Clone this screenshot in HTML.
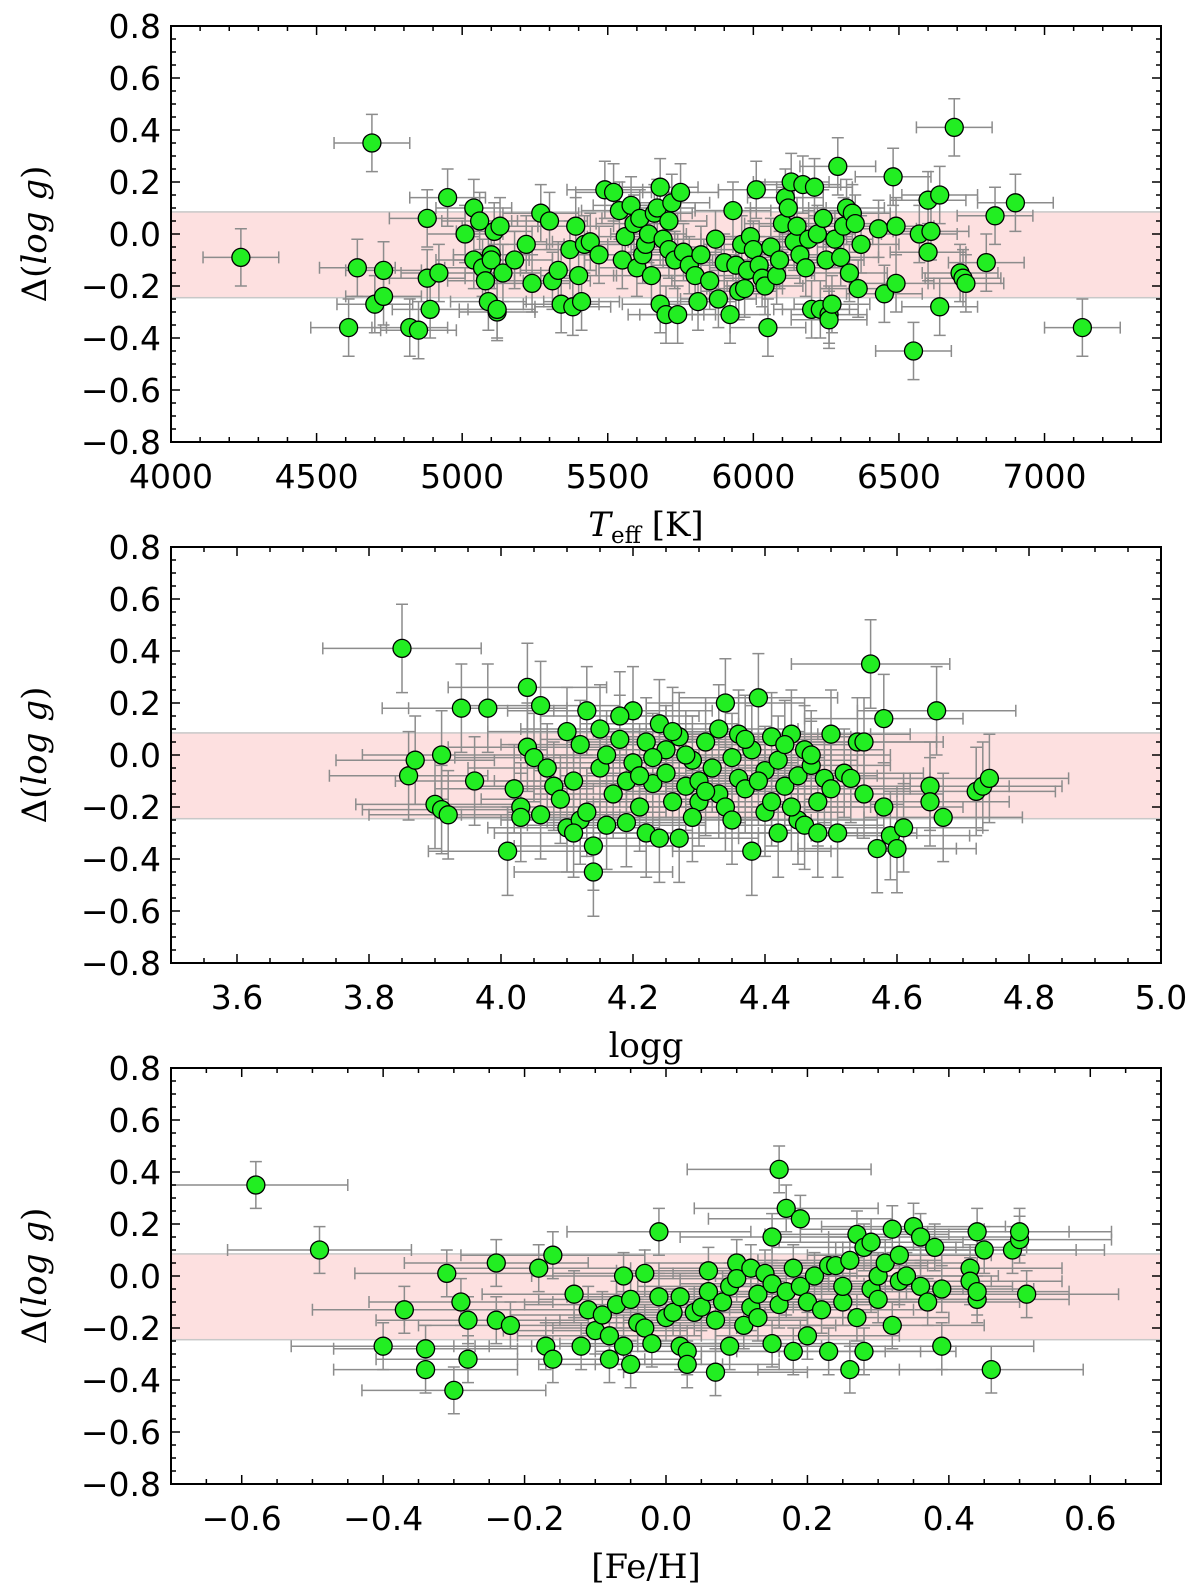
<!DOCTYPE html>
<html><head><meta charset="utf-8">
<style>
html,body{margin:0;padding:0;background:#fff;}
svg{display:block;}
.tick{font-family:"DejaVu Sans","Liberation Sans",sans-serif;font-size:33px;fill:#000;}
.lab{font-family:"DejaVu Serif","Liberation Serif",serif;font-size:34px;fill:#000;}
</style></head>
<body>
<svg id="fig" width="1200" height="1593" viewBox="0 0 1200 1593" xmlns="http://www.w3.org/2000/svg"></svg>
<script>
// ---------- data ----------
const teffX = [4240,4690,4610,4640,4700,4730,4730,4820,4850,4880,4880,4890,4920,4950,5010,5040,5040,5060,5070,5080,5090,5100,5100,5110,5120,5120,5130,5140,5180,5220,5240,5270,5300,5310,5330,5340,5370,5380,5390,5400,5410,5420,5440,5470,5490,5520,5540,5550,5560,5580,5590,5600,5610,5620,5630,5640,5650,5660,5670,5680,5680,5690,5700,5710,5710,5720,5730,5740,5750,5760,5780,5800,5810,5820,5850,5870,5880,5900,5920,5930,5940,5950,5960,5970,5980,5990,6000,6010,6020,6030,6040,6050,6060,6080,6090,6100,6110,6120,6130,6140,6150,6160,6170,6180,6190,6200,6210,6220,6230,6240,6250,6260,6260,6270,6280,6290,6300,6310,6320,6330,6340,6350,6360,6370,6430,6450,6480,6490,6490,6550,6570,6600,6600,6610,6640,6640,6690,6710,6720,6730,6800,6830,6900,7130];
const teffY = [-0.09,0.35,-0.36,-0.13,-0.27,-0.14,-0.24,-0.36,-0.37,0.06,-0.17,-0.29,-0.15,0.14,0.00,0.10,-0.10,0.05,-0.13,-0.18,-0.26,-0.08,-0.10,0.01,-0.30,-0.29,0.03,-0.15,-0.10,-0.04,-0.19,0.08,0.05,-0.18,-0.14,-0.27,-0.06,-0.28,0.03,-0.16,-0.26,-0.04,-0.03,-0.08,0.17,0.16,0.09,-0.10,-0.01,0.11,0.04,-0.13,0.06,-0.08,-0.04,0.00,-0.16,0.08,0.10,0.18,-0.27,-0.02,-0.31,0.05,-0.06,0.12,-0.10,-0.31,0.16,-0.07,-0.12,-0.16,-0.26,-0.08,-0.18,-0.02,-0.25,-0.11,-0.31,0.09,-0.12,-0.22,-0.04,-0.21,-0.14,-0.01,-0.06,0.17,-0.12,-0.17,-0.20,-0.36,-0.05,-0.16,-0.10,0.04,0.14,0.10,0.20,-0.03,0.03,-0.08,0.19,-0.13,-0.02,-0.29,0.18,0.00,-0.29,0.06,-0.10,-0.31,-0.33,-0.27,-0.02,0.26,-0.09,0.03,0.10,-0.15,0.08,0.04,-0.21,-0.04,0.02,-0.23,0.22,-0.19,0.03,-0.45,0.00,0.13,-0.07,0.01,0.15,-0.28,0.41,-0.15,-0.17,-0.19,-0.11,0.07,0.12,-0.36];
const loggX = [3.85,3.86,3.87,3.90,3.91,3.91,3.92,3.94,3.96,3.98,4.01,4.02,4.03,4.03,4.04,4.04,4.05,4.06,4.06,4.07,4.08,4.09,4.10,4.10,4.11,4.12,4.12,4.13,4.13,4.14,4.14,4.15,4.15,4.16,4.16,4.17,4.18,4.19,4.20,4.20,4.21,4.22,4.22,4.23,4.24,4.24,4.25,4.25,4.26,4.27,4.27,4.28,4.29,4.30,4.30,4.31,4.32,4.33,4.33,4.34,4.34,4.35,4.36,4.36,4.37,4.38,4.38,4.39,4.40,4.40,4.41,4.41,4.42,4.42,4.43,4.44,4.45,4.45,4.46,4.46,4.47,4.48,4.48,4.49,4.50,4.50,4.51,4.52,4.53,4.54,4.55,4.55,4.56,4.57,4.58,4.58,4.59,4.60,4.61,4.65,4.65,4.66,4.67,4.72,4.73,4.74,4.18,4.21,4.26,4.28,4.29,4.31,4.35,4.37,4.39,4.43,4.44,4.47,4.11,4.19,4.23];
const loggY = [0.41,-0.08,-0.02,-0.19,-0.21,0.00,-0.23,0.18,-0.10,0.18,-0.37,-0.13,-0.20,-0.24,0.26,0.03,-0.01,0.19,-0.23,-0.05,-0.12,-0.17,-0.28,0.09,-0.10,0.04,-0.25,0.17,-0.22,-0.35,-0.45,0.10,-0.05,0.00,-0.27,-0.15,0.06,-0.10,-0.03,0.17,-0.20,0.05,-0.30,-0.11,0.12,-0.32,0.02,-0.07,-0.18,-0.32,0.07,-0.12,-0.02,-0.10,-0.18,0.05,-0.05,0.10,-0.15,0.20,-0.20,-0.01,0.08,-0.09,-0.13,0.02,-0.37,0.22,-0.06,-0.22,0.07,-0.18,-0.02,-0.30,-0.12,0.08,-0.08,-0.25,0.02,-0.27,-0.04,-0.18,-0.30,-0.09,0.08,-0.13,-0.30,-0.07,-0.09,0.05,-0.15,0.05,0.35,-0.36,0.14,-0.20,-0.31,-0.36,-0.28,-0.12,-0.18,0.17,-0.24,-0.14,-0.12,-0.09,0.15,-0.08,0.09,0.00,-0.24,-0.14,-0.25,0.06,-0.10,0.04,-0.20,0.00,-0.30,-0.26,-0.01];
const fehX = [-0.58,-0.49,-0.40,-0.37,-0.34,-0.34,-0.31,-0.29,-0.30,-0.28,-0.28,-0.24,-0.24,-0.22,-0.18,-0.16,-0.17,-0.16,-0.13,-0.12,-0.11,-0.10,-0.09,-0.08,-0.08,-0.07,-0.06,-0.06,-0.05,-0.05,-0.04,-0.03,-0.03,-0.02,-0.01,-0.01,0.00,0.01,0.02,0.02,0.03,0.03,0.04,0.05,0.06,0.06,0.07,0.07,0.08,0.09,0.09,0.10,0.10,0.11,0.12,0.12,0.13,0.13,0.14,0.15,0.15,0.15,0.16,0.16,0.17,0.17,0.18,0.18,0.19,0.19,0.20,0.20,0.21,0.22,0.23,0.23,0.24,0.25,0.25,0.26,0.26,0.27,0.27,0.28,0.28,0.29,0.29,0.30,0.30,0.31,0.32,0.32,0.33,0.33,0.34,0.35,0.36,0.36,0.37,0.38,0.39,0.39,0.43,0.43,0.44,0.44,0.44,0.45,0.46,0.49,0.50,0.50,0.51];
const fehY = [0.35,0.10,-0.27,-0.13,-0.28,-0.36,0.01,-0.10,-0.44,-0.17,-0.32,0.05,-0.17,-0.19,0.03,0.08,-0.27,-0.32,-0.07,-0.27,-0.13,-0.21,-0.15,-0.23,-0.32,-0.11,0.00,-0.27,-0.34,-0.09,-0.18,0.01,-0.20,-0.26,0.17,-0.08,-0.16,-0.14,-0.08,-0.27,-0.29,-0.34,-0.14,-0.12,0.02,-0.06,-0.17,-0.37,-0.10,-0.04,-0.27,0.05,-0.01,-0.19,0.03,-0.12,-0.16,-0.07,0.01,-0.03,0.15,-0.26,0.41,-0.11,0.26,-0.06,0.03,-0.29,0.22,-0.04,-0.10,-0.23,0.00,-0.13,0.04,-0.29,0.04,-0.10,-0.04,0.06,-0.36,0.16,-0.16,0.11,-0.29,0.13,-0.05,0.00,-0.09,0.05,0.18,-0.19,0.08,-0.02,0.00,0.19,-0.04,0.15,-0.10,0.11,-0.27,-0.05,0.03,-0.02,-0.09,-0.06,0.17,0.10,-0.36,0.10,0.14,0.17,-0.07];
const yTickLabels = ["0.8","0.6","0.4","0.2","0.0","\u22120.2","\u22120.4","\u22120.6","\u22120.8"];
const teffTicks = ["4000","4500","5000","5500","6000","6500","7000"];
const loggTicks = ["3.6","3.8","4.0","4.2","4.4","4.6","4.8","5.0"];
const fehTicks = ["\u22120.6","\u22120.4","\u22120.2","0.0","0.2","0.4","0.6"];
const band = [0.085,-0.245];

// ---------- drawing ----------
const NS="http://www.w3.org/2000/svg";
const svg=document.getElementById('fig');
function mk(tag,attrs,parent){const e=document.createElementNS(NS,tag);for(const k in attrs)e.setAttribute(k,attrs[k]);(parent||svg).appendChild(e);return e;}
function num(s){return parseFloat(s.replace('\u2212','-'));}

const L=171,R=1161;
const panels=[
 {top:26,xmin:4000,xmax:7400,xs:teffX,ys:teffY,ex:130,ey:0.11,ticks:teffTicks,minor:100,name:'teff',label:'teff'},
 {top:547,xmin:3.5,xmax:5.0,xs:loggX,ys:loggY,ex:0.12,ey:0.17,ticks:loggTicks,minor:0.05,name:'logg',label:'logg'},
 {top:1068,xmin:-0.7,xmax:0.7,xs:fehX,ys:fehY,ex:0.13,ey:0.09,ticks:fehTicks,minor:0.05,name:'feh',label:'feh'}
];
panels.forEach(p=>{
  const B=p.top+416;
  const g=mk('g',{});
  
  
  const sx=v=>L+(v-p.xmin)/(p.xmax-p.xmin)*(R-L);
  const sy=v=>p.top+(0.8-v)/1.6*416;
  const clip=mk('clipPath',{id:'c'+p.name},g);
  mk('rect',{x:L,y:p.top,width:R-L,height:416},clip);
  const bd=mk('rect',{x:L,y:sy(band[0]),width:R-L,height:sy(band[1])-sy(band[0]),fill:'#fde0e0',stroke:'#c8c8c8','stroke-width':1.5},g);
  
  
  const pg=mk('g',{'clip-path':'url(#c'+p.name+')'},g);
  const eg=mk('g',{stroke:'#8c8c8c','stroke-width':1.5,fill:'none'},pg);
  p.xs.forEach((x,i)=>{
    const y=p.ys[i],cx=sx(x),cy=sy(y);
    const x1=sx(x-p.ex),x2=sx(x+p.ex),y1=sy(y+p.ey),y2=sy(y-p.ey);
    mk('path',{d:`M${x1},${cy}H${x2}M${x1},${cy-6}V${cy+6}M${x2},${cy-6}V${cy+6}M${cx},${y1}V${y2}M${cx-6},${y1}H${cx+6}M${cx-6},${y2}H${cx+6}`},eg);
  });
  p.xs.forEach((x,i)=>{
    const c=mk('circle',{cx:sx(x),cy:sy(p.ys[i]),r:9,fill:'#22ee22',stroke:'#000','stroke-width':1.3},pg);
    
    
  });
  const tk=mk('g',{stroke:'#000','stroke-width':1.5},g);
  for(let v=-0.8;v<=0.801;v+=0.05){const y=sy(v),maj=Math.abs(Math.round(v*100)%20)<1;const l=maj?9:5;
    mk('line',{x1:L,x2:L+l,y1:y,y2:y},tk);mk('line',{x1:R,x2:R-l,y1:y,y2:y},tk);}
  const majStep=num(p.ticks[1])-num(p.ticks[0]);
  for(let v=Math.ceil(p.xmin/p.minor-1e-6)*p.minor;v<=p.xmax+1e-9;v+=p.minor){const x=sx(v);
    const r=(v-num(p.ticks[0]))/majStep;const maj=Math.abs(r-Math.round(r))<1e-4;const l=maj?9:5;
    mk('line',{x1:x,x2:x,y1:B,y2:B-l},tk);mk('line',{x1:x,x2:x,y1:p.top,y2:p.top+l},tk);}
  const fr=mk('rect',{x:L,y:p.top,width:R-L,height:416,fill:'none',stroke:'#000','stroke-width':2},g);
  
  
  yTickLabels.forEach(s=>{const t=mk('text',{x:L-10,y:sy(num(s))+12,'text-anchor':'end',class:'tick'},g);t.textContent=s;
    
    });
  p.ticks.forEach(s=>{const t=mk('text',{x:sx(num(s)),y:B+46,'text-anchor':'middle',class:'tick'},g);t.textContent=s;
    
    });
  const yt=mk('text',{transform:`translate(46,${p.top+208}) rotate(-90)`,'text-anchor':'middle',class:'lab'},g);
  yt.innerHTML='\u0394(<tspan font-style="italic">log g</tspan>)';
  
  
  const xt=mk('text',{x:(L+R)/2-20,y:B+94,'text-anchor':'middle',class:'lab'},g);
  if(p.label==='teff') xt.innerHTML='<tspan font-style="italic">T</tspan><tspan font-size="23" dy="7">eff</tspan><tspan dy="-7"> [K]</tspan>';
  else if(p.label==='logg') xt.textContent='logg';
  else xt.textContent='[Fe/H]';
  
  
});
</script>
</body></html>
